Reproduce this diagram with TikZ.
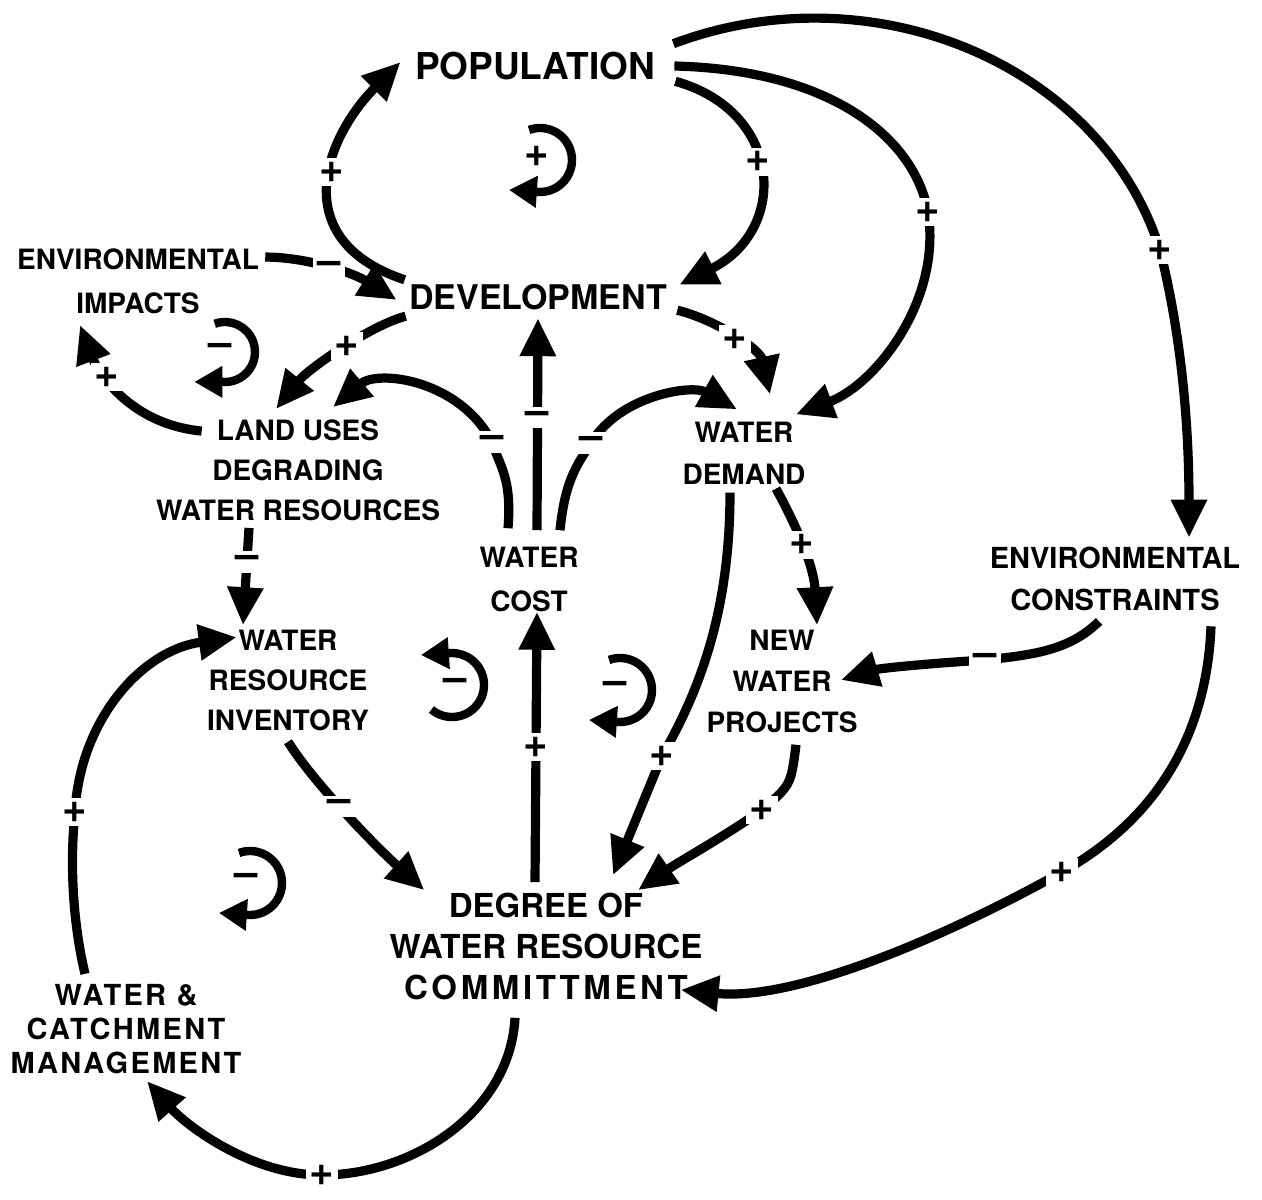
\documentclass[tikz,border=0pt]{standalone}
\usepackage{fontspec}
\setmainfont{TeX Gyre Heros}
\newfontfamily\spacedfont[LetterSpace=8]{TeX Gyre Heros}
\newfontfamily\widefont[LetterSpace=11]{TeX Gyre Heros}
\usetikzlibrary{arrows.meta}

\tikzset{
  var/.style={font=\bfseries\fontsize{14}{20}\selectfont, align=center, inner sep=2pt},
  link/.style={line width=4.6pt, -{Triangle[length=19pt,width=17pt]}},
  sgn/.style={fill=white, inner sep=2pt, font=\bfseries\fontsize{21}{21}\selectfont},
  loopmark/.style={line width=4.2pt, -{Triangle[length=14pt,width=15pt]}},
  looplabel/.style={font=\bfseries\fontsize{21}{21}\selectfont},
}

\begin{document}
\begin{tikzpicture}[x=0.5pt,y=-0.5pt]
  \useasboundingbox (0,0) rectangle (1262,1199);

  % variables
  \node[var, font=\bfseries\fontsize{18.5}{20}\selectfont] (pop) at (535,66) {POPULATION};
  \node[var, font=\bfseries\fontsize{17}{20}\selectfont] (dev) at (538,297) {DEVELOPMENT};
  \node[var, font=\bfseries\fontsize{14}{22}\selectfont] (envimp) at (138,281) {ENVIRONMENTAL\\IMPACTS};
  \node[var] (landuse) at (298,470) {LAND USES\\DEGRADING\\WATER RESOURCES};
  \node[var, font=\bfseries\fontsize{14}{22}\selectfont] (wcost) at (529,579) {WATER\\COST};
  \node[var, font=\bfseries\fontsize{14}{21}\selectfont] (wdemand) at (744,453) {WATER\\DEMAND};
  \node[var] (inventory) at (288,680) {WATER\\RESOURCE\\INVENTORY};
  \node[var, font=\bfseries\fontsize{14}{20.5}\selectfont] (newproj) at (782,681) {NEW\\WATER\\PROJECTS};
  \node[var, font=\bfseries\fontsize{14.5}{21}\selectfont] (envcon) at (1115,579) {ENVIRONMENTAL\\CONSTRAINTS};
  \node[var, font=\bfseries\fontsize{16.5}{20.5}\selectfont] (degree) at (546,946)
    {DEGREE OF\\WATER RESOURCE\\{\widefont\bfseries COMMITTMENT}};
  \node[var, font=\spacedfont\bfseries\fontsize{14.5}{17}\selectfont] (mgmt) at (126,1029)
    {WATER \&\\CATCHMENT\\MANAGEMENT};

  % population / development loop
  \draw[link] (dev.north west) .. controls +(-120,-40) and +(-75,75) .. ([shift={(-10,-4)}]pop.west)
    node[sgn,pos=0.55] {+};
  \draw[link] ([shift={(16,-3)}]pop.south east) .. controls +(108,30) and +(110,-55) .. ([shift={(8,5)}]dev.north east)
    node[sgn,pos=0.45] {+};
  \draw[link] ([shift={(15,0)}]pop.east) .. controls +(160,4) and +(-13,-72) .. (928,212) node[sgn] {+}
    .. controls +(14,88) and +(80,-30) .. ([shift={(-14,-3)}]wdemand.north east);
  \draw[link] ([shift={(14,-4)}]pop.north east) .. controls +(200,-75) and +(-58,-185) .. (1160,250) node[sgn] {+}
    .. controls +(20,80) and +(0,-120) .. ([shift={(74,-5)}]envcon.north);

  % around development
  \draw[link] ([shift={(2,13)}]envimp.north east) .. controls +(40,0) and +(-45,-28) .. ([shift={(-8,3)}]dev.west)
    node[sgn,pos=0.5] {--};
  \draw[link] ([shift={(1,2)}]dev.south west) .. controls +(-35,9) and +(32,-40) .. ([shift={(-22,-6)}]landuse.north)
    node[sgn,pos=0.45] {+};
  \draw[link] ([shift={(50,16)}]landuse.north west) .. controls +(-73,-7) and +(17,45) .. ([shift={(-58,7)}]envimp.south)
    node[sgn,pos=0.62] {+};
  \draw[link] ([shift={(6,-4)}]dev.south east) .. controls +(40,10) and +(-10,-45) .. ([shift={(26,-23)}]wdemand.north)
    node[sgn,pos=0.5] {+};

  % water cost
  \draw[link] ([shift={(-21,-14)}]wcost.north) .. controls +(4,-50) and +(8,25) .. (492,442) node[sgn] {--}
    .. controls +(-32,-62) and +(45,-38) .. ([shift={(35,-8)}]landuse.north);
  \draw[link] ([shift={(8,-12)}]wcost.north) -- ([shift={(0,4)}]dev.south) node[sgn,pos=0.53] {--};
  \draw[link] ([shift={(31,-12)}]wcost.north) .. controls +(5,-50) and +(-14,22) .. (591,443) node[sgn] {--}
    .. controls +(29,-48) and +(-45,-25) .. ([shift={(-7,-8)}]wdemand.north);

  % water demand and projects
  \draw[link] ([shift={(32,0)}]wdemand.south) .. controls +(23,42) and +(-3,-57) .. ([shift={(35,0)}]newproj.north)
    node[sgn,pos=0.45] {+};
  \draw[link] ([shift={(-14,4)}]wdemand.south) .. controls +(0,118) and +(38,-66) .. (662,756) node[sgn] {+}
    -- ([shift={(67,-13)}]degree.north);
  \draw[link] ([shift={(14,8)}]newproj.south) .. controls +(-5,40) .. (762,810) node[sgn] {+}
    .. controls +(-40,28) and +(40,-28) .. ([shift={(92,2)}]degree.north);
  \draw[link] ([shift={(-16,6)}]envcon.south) .. controls +(-30,30) and +(45,-5) .. (985,660) node[sgn] {--}
    .. controls +(-50,3) and +(40,-12) .. ([shift={(-21,-1)}]newproj.east);
  \draw[link] ([shift={(96,11)}]envcon.south) .. controls +(-5,125) and +(80,-45) .. (1062,872) node[sgn] {+}
    .. controls +(-100,56) and +(120,12) .. ([shift={(-26,-14)}]degree.south east);

  % resource inventory and management
  \draw[link] ([shift={(-49,3)}]landuse.south) -- ([shift={(-45,0)}]inventory.north) node[sgn,pos=0.35] {--};
  \draw[link] ([shift={(0,7)}]inventory.south) .. controls +(25,40) and +(-50,-45) .. ([shift={(39,2)}]degree.north west)
    node[sgn,pos=0.45] {--};
  \draw[link] ([shift={(-11,-6)}]degree.north) -- ([shift={(8,-4)}]wcost.south) node[sgn,pos=0.5] {+};
  \draw[link] ([shift={(-31,14)}]degree.south) .. controls +(-5,95) and +(90,0) .. (322,1175) node[sgn] {+}
    .. controls +(-70,0) and +(40,45) .. ([shift={(21,3)}]mgmt.south);
  \draw[link] ([shift={(-41,-6)}]mgmt.north) .. controls +(-13,-55) and +(-5,48) .. (75,812) node[sgn] {+}
    .. controls +(5,-92) and +(-95,13) .. ([shift={(34,12)}]inventory.north west);

  % loop markers
  \coordinate (loopA) at (540,160);
  \coordinate (loopB) at (225,352);
  \coordinate (loopC) at (452,685);
  \coordinate (loopD) at (620,690);
  \coordinate (loopE) at (250,883);
  \draw[loopmark] (loopA) ++(110:16pt) arc[start angle=110, end angle=-92, radius=16pt] -- ++(-15pt,1pt);
  \draw[loopmark] (loopB) ++(110:15pt) arc[start angle=110, end angle=-95, radius=15pt] -- ++(-14pt,0pt);
  \draw[loopmark] (loopC) ++(-130:16pt) arc[start angle=-130, end angle=92, radius=16pt] -- ++(-15pt,-1pt);
  \draw[loopmark] (loopD) ++(110:16pt) arc[start angle=110, end angle=-92, radius=16pt] -- ++(-15pt,1pt);
  \draw[loopmark] (loopE) ++(110:16pt) arc[start angle=110, end angle=-92, radius=16pt] -- ++(-15pt,1pt);
  \node[looplabel] (signA) at ([shift={(-3,-4)}]loopA) {+};
  \node[looplabel] (signB) at ([shift={(-5,-2)}]loopB) {--};
  \node[looplabel] (signC) at ([shift={(3,0)}]loopC) {--};
  \node[looplabel] (signD) at ([shift={(-5,-2)}]loopD) {--};
  \node[looplabel] (signE) at ([shift={(-4,-3)}]loopE) {--};

\end{tikzpicture}
\end{document}
